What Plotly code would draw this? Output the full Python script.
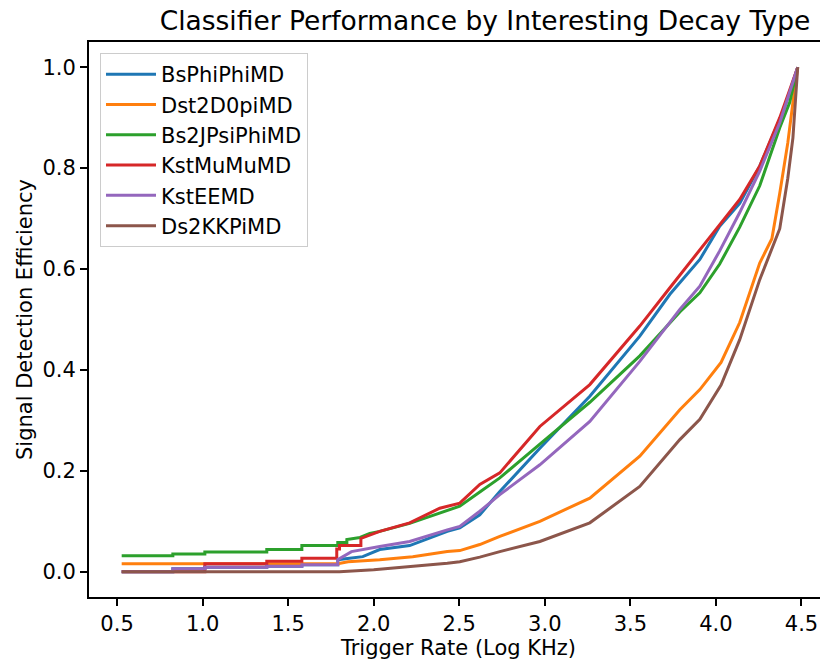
import plotly.graph_objects as go

# ---- data ----
names = ["BsPhiPhiMD", "Dst2D0piMD", "Bs2JPsiPhiMD", "KstMuMuMD", "KstEEMD", "Ds2KKPiMD"]
colors = ["#1f77b4", "#ff7f0e", "#2ca02c", "#d62728", "#9467bd", "#8c564b"]

bs_x = [0.527, 0.826, 0.826, 1.013, 1.013, 1.375, 1.375, 1.58, 1.58, 1.79, 1.79, 1.936, 2.035, 2.21, 2.43,
        2.503, 2.62, 2.737, 2.971, 3.263, 3.555, 3.731, 3.906, 4.022, 4.139, 4.256, 4.402, 4.478]
bs_y = [0.0, 0.0, 0.006, 0.006, 0.009, 0.009, 0.011, 0.011, 0.014, 0.014, 0.024, 0.03, 0.044, 0.052, 0.08,
        0.087, 0.113, 0.159, 0.245, 0.348, 0.467, 0.55, 0.619, 0.685, 0.73, 0.804, 0.92, 1.0]

dst_x = [0.527, 1.79, 1.85, 2.035, 2.228, 2.43, 2.503, 2.62, 2.737, 2.971, 3.263, 3.555, 3.789, 3.906,
         4.03, 4.139, 4.256, 4.327, 4.373, 4.42, 4.45, 4.478]
dst_y = [0.016, 0.016, 0.02, 0.024, 0.03, 0.04, 0.042, 0.054, 0.07, 0.10, 0.146, 0.229, 0.321, 0.361,
         0.415, 0.494, 0.612, 0.66, 0.75, 0.85, 0.93, 1.0]

jpsi_x = [0.527, 0.826, 0.826, 1.013, 1.013, 1.375, 1.375, 1.58, 1.58, 1.79, 1.79, 1.843, 1.843, 1.92,
          1.977, 2.035, 2.21, 2.43, 2.503, 2.62, 2.737, 2.971, 3.263, 3.555, 3.789, 3.906, 4.022, 4.139,
          4.256, 4.373, 4.431, 4.478]
jpsi_y = [0.032, 0.032, 0.035, 0.035, 0.039, 0.039, 0.044, 0.044, 0.052, 0.052, 0.058, 0.058, 0.064, 0.068,
          0.076, 0.08, 0.096, 0.122, 0.13, 0.158, 0.186, 0.253, 0.336, 0.428, 0.515, 0.553, 0.61, 0.683,
          0.765, 0.88, 0.93, 1.0]

kmm_x = [0.527, 1.013, 1.013, 1.375, 1.375, 1.58, 1.58, 1.784, 1.784, 1.80, 1.80, 1.925, 1.925, 2.035,
         2.21, 2.386, 2.503, 2.62, 2.737, 2.971, 3.263, 3.555, 3.731, 3.906, 4.022, 4.139, 4.256, 4.373,
         4.431, 4.478]
kmm_y = [0.0, 0.0, 0.016, 0.016, 0.021, 0.021, 0.027, 0.027, 0.045, 0.045, 0.052, 0.052, 0.066, 0.08,
         0.097, 0.126, 0.136, 0.173, 0.196, 0.288, 0.371, 0.487, 0.563, 0.639, 0.688, 0.738, 0.804, 0.9,
         0.955, 1.0]

kee_x = [0.527, 0.826, 0.826, 1.013, 1.013, 1.375, 1.375, 1.58, 1.58, 1.79, 1.79, 1.87, 2.035, 2.21, 2.43,
         2.503, 2.62, 2.737, 2.971, 3.263, 3.555, 3.789, 3.906, 4.022, 4.139, 4.256, 4.373, 4.431, 4.478]
kee_y = [0.0, 0.0, 0.006, 0.006, 0.009, 0.009, 0.011, 0.011, 0.014, 0.014, 0.024, 0.04, 0.05, 0.06, 0.083,
         0.09, 0.12, 0.153, 0.212, 0.298, 0.417, 0.52, 0.566, 0.636, 0.712, 0.794, 0.89, 0.95, 1.0]

ds_x = [0.527, 1.8, 2.0, 2.21, 2.43, 2.503, 2.62, 2.737, 2.971, 3.263, 3.555, 3.789, 3.906, 4.03, 4.139,
        4.256, 4.373, 4.42, 4.45, 4.478]
ds_y = [0.0, 0.0, 0.004, 0.01, 0.017, 0.02, 0.029, 0.04, 0.06, 0.097, 0.169, 0.262, 0.302, 0.37, 0.46,
        0.579, 0.68, 0.78, 0.86, 1.0]

xs = [bs_x, dst_x, jpsi_x, kmm_x, kee_x, ds_x]
ys = [bs_y, dst_y, jpsi_y, kmm_y, kee_y, ds_y]

x_ticks = [0.5, 1.0, 1.5, 2.0, 2.5, 3.0, 3.5, 4.0, 4.5]
y_ticks = [0.0, 0.2, 0.4, 0.6, 0.8, 1.0]

FONT = "DejaVu Sans"
# the page body adds an 8px offset; the figure is sized to fill the rest of the window
OFF = 8
W, H = 828 - OFF, 661 - OFF

fig = go.Figure()
for n, c, x, y in zip(names, colors, xs, ys):
    fig.add_trace(go.Scatter(x=x, y=y, mode="lines", name=n, legendgroup=n,
                             line=dict(color=c, width=3)))

axis_common = dict(showgrid=False, zeroline=False, showline=True, linecolor="black", linewidth=2,
                   ticks="outside", ticklen=7, tickwidth=1.6, tickcolor="black", automargin=False,
                   tickfont=dict(family=FONT, size=21, color="black"))

fig.update_layout(
    width=W, height=H, autosize=False,
    margin=dict(l=89 - OFF, r=0, t=42 - OFF, b=64),
    paper_bgcolor="white", plot_bgcolor="white",
    font=dict(family=FONT, color="black"),
    title=dict(text="Classifier Performance by Interesting Decay Type",
               font=dict(family=FONT, size=26.5, color="black"),
               xref="container", x=(485 - OFF) / W, xanchor="center",
               yref="container", y=1 - (21 - OFF) / H, yanchor="middle"),
    xaxis=dict(range=[0.336, 4.655], tickvals=x_ticks, ticktext=[f"{v:.1f}" for v in x_ticks],
               mirror=True,
               title=dict(text="Trigger Rate (Log KHz)", font=dict(family=FONT, size=21, color="black"),
                          standoff=4),
               **axis_common),
    yaxis=dict(range=[-0.05, 1.05], tickvals=y_ticks, ticktext=[f"{v:.1f}" for v in y_ticks],
               mirror=False,
               title=dict(text="Signal Detection Efficiency", font=dict(family=FONT, size=21, color="black"),
                          standoff=4),
               **axis_common),
    legend=dict(x=(100 - 89) / 739, y=(597 - 53) / 555, xanchor="left", yanchor="top",
                bgcolor="rgba(255,255,255,0.8)", bordercolor="#cccccc", borderwidth=1,
                font=dict(family=FONT, size=21, color="black"), tracegroupgap=0,
                itemwidth=50, traceorder="normal"),
    showlegend=True,
)

fig.write_html("out.html")
